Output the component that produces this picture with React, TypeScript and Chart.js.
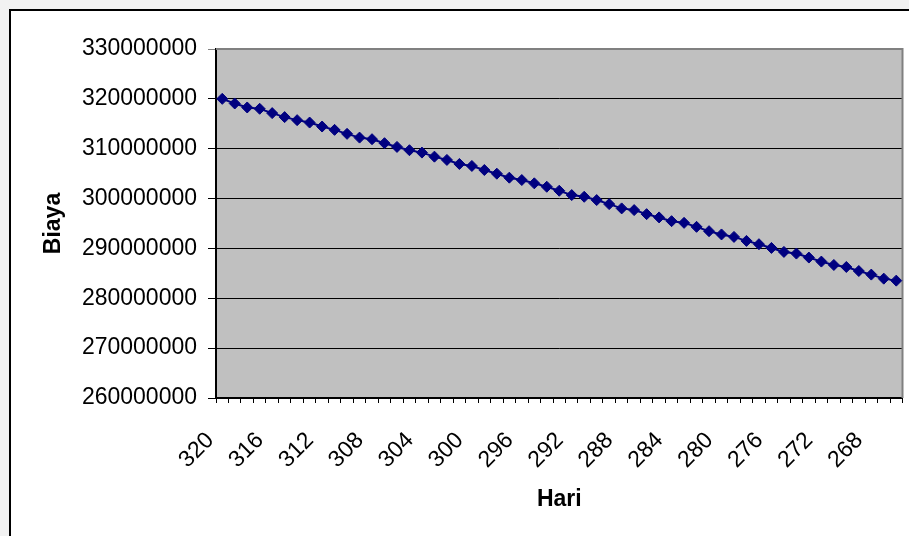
import React, { useEffect, useRef } from "react";
import { Chart, registerables } from "chart.js";

Chart.register(...registerables);

const days: string[] = [
  "320","319","318","317","316","315","314","313","312","311",
  "310","309","308","307","306","305","304","303","302","301",
  "300","299","298","297","296","295","294","293","292","291",
  "290","289","288","287","286","285","284","283","282","281",
  "280","279","278","277","276","275","274","273","272","271",
  "270","269","268","267","266",
];

const biaya: number[] = [
  320000000, 319070000, 318270000, 318010000, 317140000, 316340000, 315730000, 315250000, 314450000, 313780000,
  312980000, 312230000, 311910000, 311110000, 310360000, 309700000, 309220000, 308410000, 307750000, 306940000,
  306540000, 305730000, 304990000, 304190000, 303720000, 303060000, 302370000, 301570000, 300700000, 300360000,
  299700000, 298890000, 298030000, 297690000, 296880000, 296220000, 295470000, 295130000, 294330000, 293460000,
  292800000, 292310000, 291510000, 290850000, 290100000, 289300000, 288970000, 288170000, 287360000, 286680000,
  286280000, 285470000, 284750000, 283940000, 283540000,
];

const yMin = 260000000;
const yMax = 330000000;
const yStep = 10000000;

const FONT = "'Liberation Sans', Arial, sans-serif";

const plotBg = {
  id: "plotBg",
  beforeDraw(chart: any) {
    const { ctx, chartArea: a } = chart;
    ctx.save();
    ctx.fillStyle = "#c0c0c0";
    ctx.fillRect(a.left, a.top, a.right - a.left, a.bottom - a.top);
    ctx.restore();
  },
  beforeDatasetsDraw(chart: any) {
    const { ctx, chartArea: a } = chart;
    ctx.save();
    ctx.strokeStyle = "#808080";
    ctx.lineWidth = 2;
    ctx.beginPath();
    ctx.moveTo(a.left, a.top);
    ctx.lineTo(a.right, a.top);
    ctx.lineTo(a.right, a.bottom);
    ctx.stroke();
    ctx.restore();
  },
};

export default function App() {
  const ref = useRef<HTMLCanvasElement | null>(null);
  useEffect(() => {
    if (!ref.current) return;
    const chart = new Chart(ref.current, {
      type: "line",
      data: {
        labels: days,
        datasets: [
          {
            data: biaya,
            borderColor: "#000080",
            backgroundColor: "#000080",
            borderWidth: 2,
            pointStyle: "rectRot",
            pointRadius: 5.5,
            pointBorderWidth: 1,
            pointBackgroundColor: "#000080",
            pointBorderColor: "#000080",
            tension: 0,
          },
        ],
      },
      options: {
        animation: false,
        responsive: false,
        devicePixelRatio: 1,
        layout: { padding: { left: 0, top: 49, right: 4, bottom: 0 } },
        plugins: { legend: { display: false }, tooltip: { enabled: false } },
        scales: {
          x: {
            type: "category",
            offset: true,
            afterFit(scale: any) {
              scale.height = 138;
              scale.paddingLeft = 0;
              scale.paddingRight = 0;
            },
            grid: {
              offset: true,
              drawOnChartArea: false,
              drawTicks: true,
              tickLength: 5,
              color: "#000000",
              lineWidth: 1,
            },
            border: { color: "#000000", width: 2 },
            ticks: {
              autoSkip: false,
              maxRotation: 45,
              minRotation: 45,
              padding: 24,
              labelOffset: -12,
              color: "#000000",
              font: { family: FONT, size: 23 },
              callback: (_v: any, i: number) => (i % 4 === 0 ? days[i] : ""),
            },
            title: {
              display: true,
              text: "Hari",
              color: "#000000",
              font: { family: FONT, size: 23, weight: "bold" },
              padding: { top: 0, bottom: 23 },
            },
          },
          y: {
            min: yMin,
            max: yMax,
            afterFit(scale: any) {
              scale.width = 216;
              scale.paddingTop = 0;
              scale.paddingBottom = 0;
            },
            grid: {
              color: (c: any) => (c.tick && c.tick.value === yMax ? "#808080" : "#000000"),
              lineWidth: 1,
              tickLength: 8,
            },
            border: { color: "#000000", width: 2 },
            ticks: {
              stepSize: yStep,
              padding: 11,
              color: "#000000",
              font: { family: FONT, size: 23 },
              callback: (v: any) => String(v),
            },
            title: {
              display: true,
              text: "Biaya",
              color: "#000000",
              font: { family: FONT, size: 23, weight: "bold" },
              padding: { top: 40, bottom: 0 },
            },
          },
        },
      },
      plugins: [plotBg],
    });
    return () => chart.destroy();
  }, []);

  return (
    <div style={{ position: "fixed", left: 0, top: 0, width: 909, height: 536, background: "#f2f2f2", overflow: "hidden" }}>
      <div
        style={{
          position: "absolute",
          left: 9,
          top: 9,
          width: 1000,
          height: 700,
          background: "#ffffff",
          borderLeft: "2px solid #000",
          borderTop: "2px solid #000",
        }}
      />
      <canvas ref={ref} width={909} height={536} style={{ position: "absolute", left: 0, top: 0, width: 909, height: 536 }} />
    </div>
  );
}
